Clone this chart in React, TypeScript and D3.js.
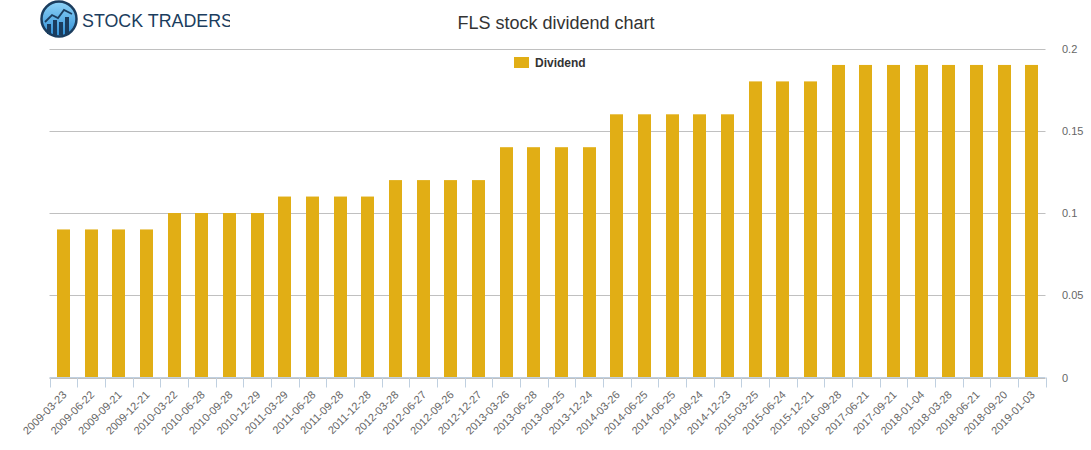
import React from "react";
import * as d3 from "d3";

const categories = [
  "2009-03-23", "2009-06-22", "2009-09-21", "2009-12-21",
  "2010-03-22", "2010-06-28", "2010-09-28", "2010-12-29",
  "2011-03-29", "2011-06-28", "2011-09-28", "2011-12-28",
  "2012-03-28", "2012-06-27", "2012-09-26", "2012-12-27",
  "2013-03-26", "2013-06-28", "2013-09-25", "2013-12-24",
  "2014-03-26", "2014-06-25", "2014-06-25", "2014-09-24", "2014-12-23",
  "2015-03-25", "2015-06-24", "2015-12-21",
  "2016-09-28", "2017-06-21", "2017-09-21", "2018-01-04",
  "2018-03-28", "2018-06-21", "2018-09-20", "2019-01-03",
];

const dividends = [
  0.09, 0.09, 0.09, 0.09,
  0.1, 0.1, 0.1, 0.1,
  0.11, 0.11, 0.11, 0.11,
  0.12, 0.12, 0.12, 0.12,
  0.14, 0.14, 0.14, 0.14,
  0.16, 0.16, 0.16, 0.16, 0.16,
  0.18, 0.18, 0.18,
  0.19, 0.19, 0.19, 0.19,
  0.19, 0.19, 0.19, 0.19,
];

const yTicks = [0, 0.05, 0.1, 0.15, 0.2];
const yTickLabels = ["0", "0.05", "0.1", "0.15", "0.2"];

const title = "FLS stock dividend chart";
const seriesName = "Dividend";

const W = 1091;
const H = 450;
const left = 49.5;
const right = 1045.5;
const top = 48.5;
const bottom = 377.5;
const barColor = "#E1AE15";
const font = "'Liberation Sans', Arial, Helvetica, sans-serif";

export default function App() {
  const idx = categories.map((_, i) => String(i));
  const x = d3.scaleBand<string>().domain(idx).range([left, right]).paddingInner(0).paddingOuter(0);
  const y = d3.scaleLinear().domain([0, 0.2]).range([bottom, top]);
  const bw = 13;

  const tickXs = idx.map((k) => x(k)!).concat([right]);

  return (
    <svg width={W} height={H} style={{ position: "absolute", left: 0, top: 0, fontFamily: font }}>
      <defs>
        <linearGradient id="logoGrad" x1="0" y1="0" x2="0" y2="1">
          <stop offset="0" stopColor="#8fd3f7" />
          <stop offset="1" stopColor="#2f8fd6" />
        </linearGradient>
        <clipPath id="logoClip">
          <rect x={0} y={0} width={230} height={45} />
        </clipPath>
      </defs>
      <rect width={W} height={H} fill="#ffffff" />

      {/* Logo */}
      <g clipPath="url(#logoClip)">
        <circle cx={59} cy={19} r={17.5} fill="url(#logoGrad)" stroke="#1b3d5e" strokeWidth={2.5} />
        <rect x={47} y={24} width={4} height={10} fill="#1b3d5e" />
        <rect x={53} y={20} width={4} height={15} fill="#1b3d5e" />
        <rect x={59} y={22} width={4} height={13} fill="#1b3d5e" />
        <rect x={65} y={17} width={4} height={17} fill="#1b3d5e" />
        <polyline points="45,22 52,15 58,18 64,10 72,14" fill="none" stroke="#1b3d5e" strokeWidth={1.8} />
        <text
          x={82}
          y={27}
          fontSize={19}
          fill="#1b3d5e"
          textLength={151}
          lengthAdjust="spacingAndGlyphs"
          fontFamily="'Liberation Sans', Arial, sans-serif"
        >
          STOCK TRADERS
        </text>
      </g>

      {/* Title */}
      <text x={556} y={29} textAnchor="middle" fontSize={18} fill="#333333">
        {title}
      </text>

      {/* Gridlines */}
      {yTicks.map((t) => (
        <line
          key={"g" + t}
          x1={left}
          x2={right}
          y1={Math.round(y(t)) + 0.5}
          y2={Math.round(y(t)) + 0.5}
          stroke="#C0C0C0"
          strokeWidth={1}
        />
      ))}

      {/* Bars */}
      {dividends.map((v, i) => {
        const cx = x(String(i))! + x.bandwidth() / 2;
        return (
          <rect
            key={"b" + i}
            x={Math.round(cx - bw / 2)}
            y={y(v)}
            width={bw}
            height={bottom - y(v)}
            fill={barColor}
          />
        );
      })}

      {/* X axis */}
      <line x1={left} x2={right} y1={bottom} y2={bottom} stroke="#C0D0E0" strokeWidth={1} />
      {tickXs.map((tx, i) => (
        <line
          key={"t" + i}
          x1={Math.round(tx) + 0.5}
          x2={Math.round(tx) + 0.5}
          y1={bottom}
          y2={bottom + 10}
          stroke="#C0D0E0"
          strokeWidth={1}
        />
      ))}
      {categories.map((c, i) => {
        const cx = x(String(i))! + x.bandwidth() / 2;
        return (
          <text
            key={"l" + i}
            transform={`translate(${cx + 4},${bottom + 18}) rotate(-45)`}
            textAnchor="end"
            fontSize={11}
            fill="#666666"
          >
            {c}
          </text>
        );
      })}

      {/* Y axis labels */}
      {yTicks.map((t, i) => (
        <text key={"y" + t} x={1062} y={y(t) + 4} fontSize={11} fill="#666666">
          {yTickLabels[i]}
        </text>
      ))}

      {/* Legend */}
      <rect x={514} y={57} width={15} height={11} fill={barColor} />
      <text x={535} y={67} fontSize={12} fontWeight="bold" fill="#333333">
        {seriesName}
      </text>
    </svg>
  );
}
